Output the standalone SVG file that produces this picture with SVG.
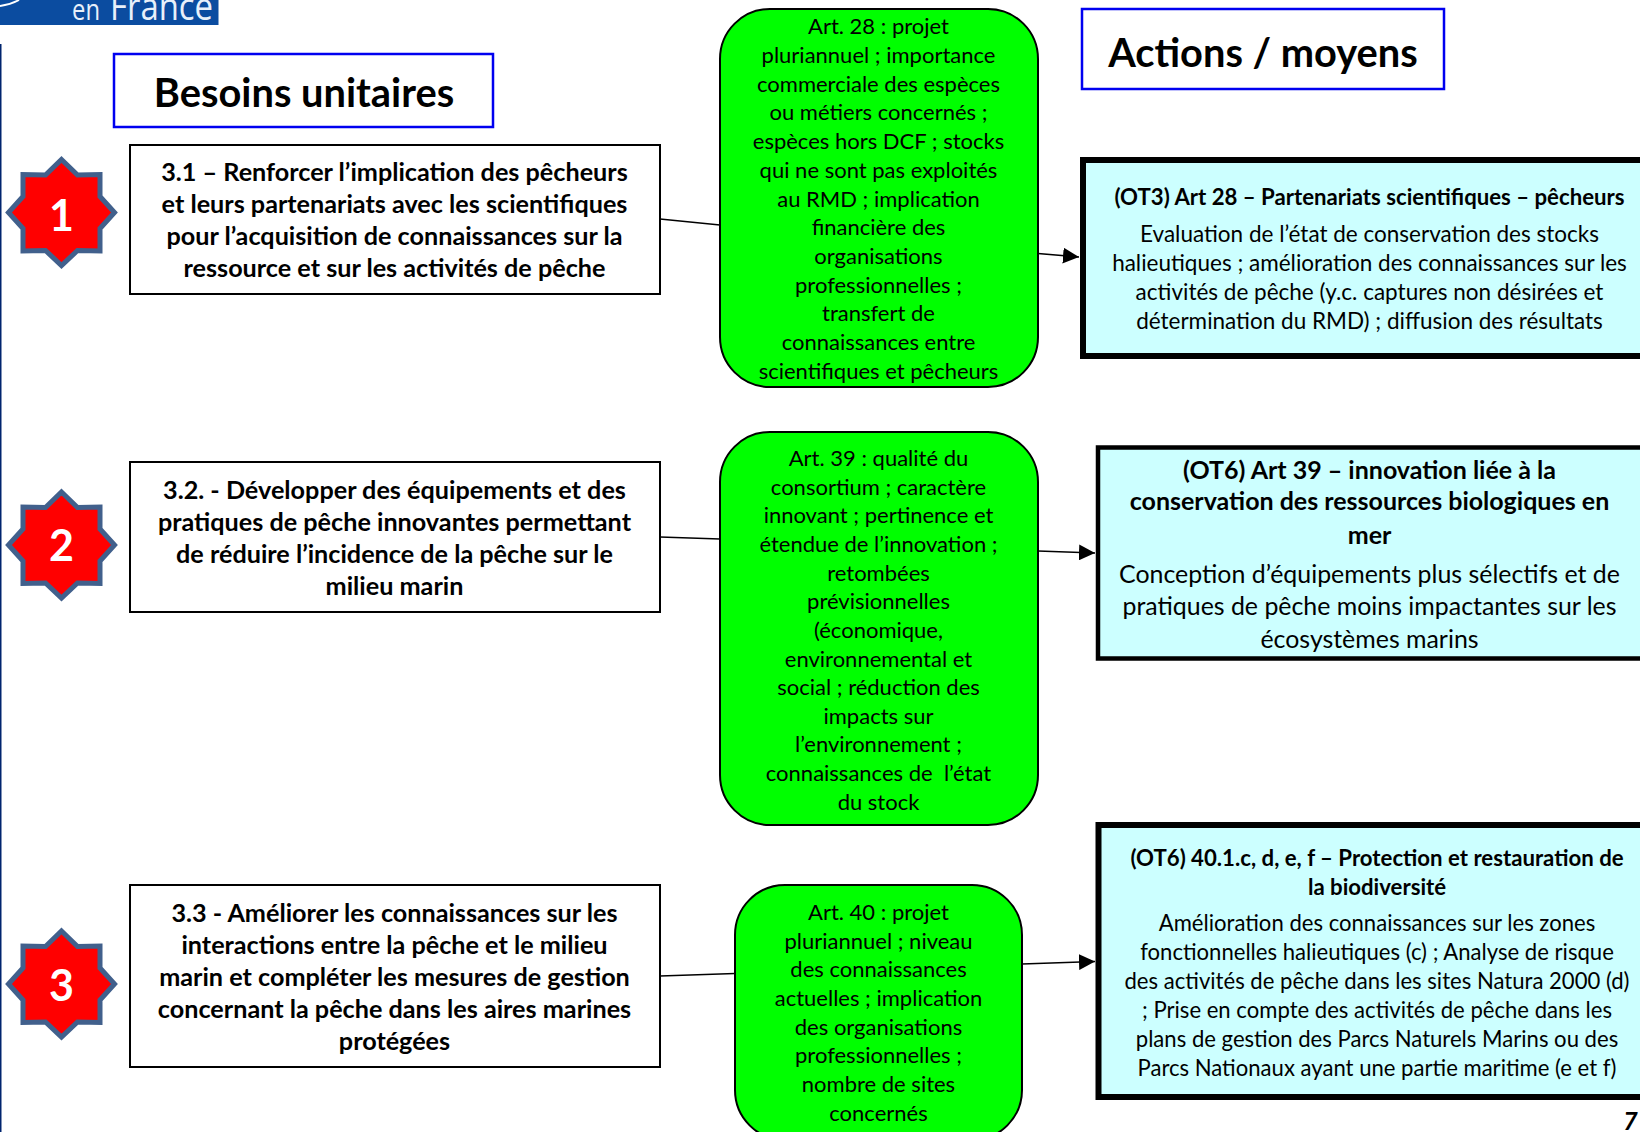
<svg xmlns="http://www.w3.org/2000/svg" width="1640" height="1132" viewBox="0 0 1640 1132">
<style>
text{font-family:"Lato","Liberation Sans",sans-serif;text-anchor:middle;fill:#000}
.need{fill:#fff;stroke:#000;stroke-width:2}
.head{fill:#fff;stroke:#0000f0;stroke-width:2.5}
.green{fill:#00ff00;stroke:#000;stroke-width:2}
.blue{fill:#ccffff;stroke:#000;stroke-width:6}
.bt{font-weight:700;font-size:25.2px}
.ht{font-weight:700;font-size:39.8px}
.gt{font-size:22px}
.bb{font-size:22.5px}
.bb3{font-size:22.1px}
.bh{font-weight:700;font-size:22.2px}
.bh2{font-weight:700;font-size:25px}
.bb2{font-size:24.9px}
.num{font-weight:700;font-size:43px;fill:#fff}
.conn{fill:none;stroke:#000;stroke-width:1.6}
.star{fill:#ff0000;stroke:#41608c;stroke-width:5;stroke-linejoin:miter}
</style>
<defs>
<marker id="arr" markerUnits="userSpaceOnUse" markerWidth="17" markerHeight="16" refX="16" refY="8" orient="auto"><path d="M0 0L16 8L0 16Z" fill="#000"/></marker>
<polygon id="s8" class="star" points="0,-53 16,-37.500 38.500,-38 38.500,-16 53,0 38.500,16 38.500,38.500 16,38 0,53 -16,38 -38.500,38.500 -38.500,16 -53,0 -38.500,-16 -38.500,-38 -16,-37.500"/>
</defs>
<rect width="1640" height="1132" fill="#fff"/>
<g id="logo">
<rect x="0" y="0" width="218.500" height="25" fill="#0b4ca0"/>
<path d="M0 6Q10 5 19 0" fill="none" stroke="#fff" stroke-width="2"/>
<text x="86" y="20" style="fill:#e8f0fa;font-family:'Open Sans',sans-serif;font-size:29px" textLength="28" lengthAdjust="spacingAndGlyphs">en</text>
<text x="161.500" y="20" style="fill:#e8f0fa;font-family:'Open Sans',sans-serif;font-size:38px" textLength="103" lengthAdjust="spacingAndGlyphs">France</text>
</g>
<rect id="page-rule" x="0" y="44" width="1.500" height="1088" fill="#00246e"/>
<g id="connectors">
<line class="conn" x1="660" y1="219" x2="720" y2="225"/>
<line class="conn" x1="1038" y1="253.500" x2="1079" y2="257" marker-end="url(#arr)"/>
<line class="conn" x1="660" y1="537" x2="720" y2="539"/>
<line class="conn" x1="1038" y1="551" x2="1095" y2="553" marker-end="url(#arr)"/>
<line class="conn" x1="660" y1="976" x2="735" y2="973.500"/>
<line class="conn" x1="1022" y1="964" x2="1095" y2="961.500" marker-end="url(#arr)"/>
</g>
<g id="header-besoins"><rect class="head" x="114" y="54" width="379" height="73"/><text class="ht" x="304" y="107">Besoins unitaires</text></g>
<g id="header-actions"><rect class="head" x="1082" y="9" width="362" height="80"/><text class="ht" x="1263" y="67">Actions / moyens</text></g>
<g id="star-1"><use href="#s8" x="61.500" y="212.500"/><text class="num" x="61.500" y="231">1</text></g>
<g id="star-2"><use href="#s8" x="61.500" y="545"/><text class="num" x="61.500" y="561">2</text></g>
<g id="star-3"><use href="#s8" x="61.500" y="984"/><text class="num" x="61.500" y="1000.500">3</text></g>
<g id="need-1"><rect class="need" x="130" y="145" width="530" height="149"/>
<text class="bt"><tspan x="394.500" y="180.500">3.1 – Renforcer l’implication des pêcheurs</tspan><tspan x="394.500" y="212.500">et leurs partenariats avec les scientifiques</tspan><tspan x="394.500" y="244.500">pour l’acquisition de connaissances sur la</tspan><tspan x="394.500" y="277">ressource et sur les activités de pêche</tspan></text></g>
<g id="need-2"><rect class="need" x="130" y="462" width="530" height="150"/>
<text class="bt"><tspan x="394.500" y="499">3.2. - Développer des équipements et des</tspan><tspan x="394.500" y="531">pratiques de pêche innovantes permettant</tspan><tspan x="394.500" y="563">de réduire l’incidence de la pêche sur le</tspan><tspan x="394.500" y="595">milieu marin</tspan></text></g>
<g id="need-3"><rect class="need" x="130" y="885" width="530" height="182"/>
<text class="bt"><tspan x="394.500" y="922">3.3 - Améliorer les connaissances sur les</tspan><tspan x="394.500" y="954">interactions entre la pêche et le milieu</tspan><tspan x="394.500" y="986">marin et compléter les mesures de gestion</tspan><tspan x="394.500" y="1018">concernant la pêche dans les aires marines</tspan><tspan x="394.500" y="1050">protégées</tspan></text></g>
<g id="criteria-1"><rect class="green" x="720" y="9" width="318" height="378" rx="50"/>
<text class="gt" transform="translate(0,1)"><tspan x="878.500" y="33">Art. 28 : projet</tspan><tspan x="878.500" y="62">pluriannuel ; importance</tspan><tspan x="878.500" y="91">commerciale des espèces</tspan><tspan x="878.500" y="119">ou métiers concernés ;</tspan><tspan x="878.500" y="148">espèces hors DCF ; stocks</tspan><tspan x="878.500" y="177">qui ne sont pas exploités</tspan><tspan x="878.500" y="206">au RMD ; implication</tspan><tspan x="878.500" y="234">financière des</tspan><tspan x="878.500" y="263">organisations</tspan><tspan x="878.500" y="292">professionnelles ;</tspan><tspan x="878.500" y="320">transfert de</tspan><tspan x="878.500" y="349">connaissances entre</tspan><tspan x="878.500" y="378">scientifiques et pêcheurs</tspan></text></g>
<g id="criteria-2"><rect class="green" x="720" y="432" width="318" height="393" rx="50"/>
<text class="gt" transform="translate(0,1)"><tspan x="878.500" y="465">Art. 39 : qualité du</tspan><tspan x="878.500" y="494">consortium ; caractère</tspan><tspan x="878.500" y="522">innovant ; pertinence et</tspan><tspan x="878.500" y="551">étendue de l’innovation ;</tspan><tspan x="878.500" y="580">retombées</tspan><tspan x="878.500" y="608">prévisionnelles</tspan><tspan x="878.500" y="637">(économique,</tspan><tspan x="878.500" y="666">environnemental et</tspan><tspan x="878.500" y="694">social ; réduction des</tspan><tspan x="878.500" y="723">impacts sur</tspan><tspan x="878.500" y="751">l’environnement ;</tspan><tspan x="878.500" y="780" style="white-space:pre">connaissances de  l’état</tspan><tspan x="878.500" y="809">du stock</tspan></text></g>
<g id="criteria-3"><rect class="green" x="735" y="885" width="287" height="255" rx="50"/>
<text class="gt" transform="translate(0,1)"><tspan x="878.500" y="919">Art. 40 : projet</tspan><tspan x="878.500" y="948">pluriannuel ; niveau</tspan><tspan x="878.500" y="976">des connaissances</tspan><tspan x="878.500" y="1005">actuelles ; implication</tspan><tspan x="878.500" y="1034">des organisations</tspan><tspan x="878.500" y="1062">professionnelles ;</tspan><tspan x="878.500" y="1091">nombre de sites</tspan><tspan x="878.500" y="1120">concernés</tspan></text></g>
<g id="action-1"><rect class="blue" x="1083" y="160" width="570" height="196"/>
<text class="bh" x="1369.500" y="205">(OT3) Art 28 – Partenariats scientifiques – pêcheurs</text>
<text class="bb"><tspan x="1369.500" y="241.500">Evaluation de l’état de conservation des stocks</tspan><tspan x="1369.500" y="270.500">halieutiques ; amélioration des connaissances sur les</tspan><tspan x="1369.500" y="299.500">activités de pêche (y.c. captures non désirées et</tspan><tspan x="1369.500" y="328.500">détermination du RMD) ; diffusion des résultats</tspan></text></g>
<g id="action-2"><rect class="blue" x="1098" y="447.500" width="560" height="211" style="stroke-width:4.500px"/>
<text class="bh2"><tspan x="1369.500" y="478.500">(OT6) Art 39 – innovation liée à la</tspan><tspan x="1369.500" y="510">conservation des ressources biologiques en</tspan><tspan x="1369.500" y="543.500">mer</tspan></text>
<text class="bb2"><tspan x="1369.500" y="582.500">Conception d’équipements plus sélectifs et de</tspan><tspan x="1369.500" y="614.500">pratiques de pêche moins impactantes sur les</tspan><tspan x="1369.500" y="647.500">écosystèmes marins</tspan></text></g>
<g id="action-3"><rect class="blue" x="1098.500" y="825" width="560" height="272"/>
<text class="bh"><tspan x="1377" y="865.500">(OT6) 40.1.c, d, e, f – Protection et restauration de</tspan><tspan x="1377" y="894.500">la biodiversité</tspan></text>
<text class="bb3"><tspan x="1377" y="930.500">Amélioration des connaissances sur les zones</tspan><tspan x="1377" y="959.500">fonctionnelles halieutiques (c) ; Analyse de risque</tspan><tspan x="1377" y="988.500">des activités de pêche dans les sites Natura 2000 (d)</tspan><tspan x="1377" y="1017.500">; Prise en compte des activités de pêche dans les</tspan><tspan x="1377" y="1046.500">plans de gestion des Parcs Naturels Marins ou des</tspan><tspan x="1377" y="1075.500">Parcs Nationaux ayant une partie maritime (e et f)</tspan></text></g>
<text id="page-number" x="1630.500" y="1130" style="font-weight:700;font-style:italic;font-size:25px">7</text>
</svg>
